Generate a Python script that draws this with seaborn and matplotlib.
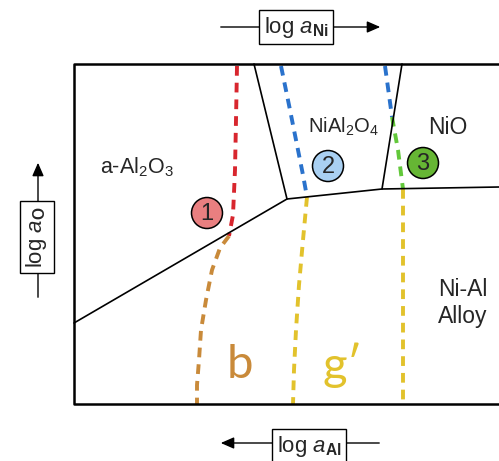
import matplotlib
matplotlib.use("Agg")
import matplotlib.pyplot as plt
import seaborn as sns
from matplotlib.patches import Circle, FancyArrowPatch

# Schematic coordinates (x right, y down), in the frame of the drawing
frame_x = [499, 74, 74, 499]
frame_y = [64, 64, 404, 404]

# phase boundaries
alumina_alloy_x = [74, 287, 382, 499]
alumina_alloy_y = [323, 199, 189, 187]
alumina_spinel_x = [254, 287]
alumina_spinel_y = [64, 199]
spinel_nio_x = [402, 382]
spinel_nio_y = [64, 189]

# dashed paths
path_red_x = [237, 236, 235, 233, 229]
path_red_y = [66, 120, 170, 215, 236]
path_b_x = [229, 220, 212, 206, 201, 199, 197, 197]
path_b_y = [236, 248, 270, 300, 330, 360, 385, 404]
path_blue2_x = [281, 289, 297, 303, 307]
path_blue2_y = [66, 105, 145, 175, 197]
path_g2_x = [307, 303, 299, 296, 294, 293]
path_g2_y = [197, 240, 285, 330, 370, 404]
path_blue3_x = [385, 389, 392]
path_blue3_y = [66, 95, 117]
path_green_x = [392, 398, 403]
path_green_y = [117, 150, 189]
path_g3_x = [403, 403]
path_g3_y = [189, 404]

labels = ["1", "2", "3"]
label_x = [207, 328, 423]
label_y = [213, 166, 163]
label_fill = ["#e97f80", "#a9d0f2", "#66b634"]

sns.set_style("white")
plt.rcParams["font.family"] = ["Liberation Sans", "DejaVu Sans"]
plt.rcParams["mathtext.fontset"] = "custom"
plt.rcParams["mathtext.rm"] = "Liberation Sans"
plt.rcParams["mathtext.it"] = "Liberation Sans:italic"
plt.rcParams["mathtext.bf"] = "Liberation Sans:bold"

fig = plt.figure(figsize=(4.99, 4.61), dpi=100)
ax = fig.add_axes([0, 0, 1, 1])

def draw(xs, ys, color, lw, ls="-"):
    sns.lineplot(x=xs, y=ys, sort=False, estimator=None, color=color,
                 lw=lw, linestyle=ls, ax=ax)

dash = (0, (2.5, 1.8))
draw(path_red_x, path_red_y, "#d8262e", 2.8, dash)
draw(path_b_x, path_b_y, "#c98a3a", 2.8, dash)
draw(path_blue2_x, path_blue2_y, "#2a72cc", 2.8, dash)
draw(path_g2_x, path_g2_y, "#e2c22c", 2.8, dash)
draw(path_blue3_x, path_blue3_y, "#2a72cc", 2.8, dash)
draw(path_green_x, path_green_y, "#62c83a", 2.8, dash)
draw(path_g3_x, path_g3_y, "#e2c22c", 2.8, dash)

draw(frame_x, frame_y, "black", 1.8)
draw(alumina_alloy_x, alumina_alloy_y, "black", 1.2)
draw(alumina_spinel_x, alumina_spinel_y, "black", 1.2)
draw(spinel_nio_x, spinel_nio_y, "black", 1.2)

for lab, cx, cy, fc in zip(labels, label_x, label_y, label_fill):
    ax.add_patch(Circle((cx, cy), 15.5, facecolor=fc, edgecolor="black", lw=1.1, zorder=5))
    ax.text(cx, cy + 1, lab, ha="center", va="center", fontsize=17, zorder=6)

ax.text(137, 167, "a-Al$_2$O$_3$", ha="center", va="center", fontsize=15.5)
ax.text(343, 127, "NiAl$_2$O$_4$", ha="center", va="center", fontsize=14.5)
ax.text(448, 127, "NiO", ha="center", va="center", fontsize=16.5)
ax.text(463, 303, "Ni-Al\nAlloy", ha="center", va="center", fontsize=16.5, linespacing=1.25)
ax.text(240, 365, "b", ha="center", va="center", fontsize=34, color="#c98a3a",
        family=["Lato", "DejaVu Sans"])
ax.text(343, 365, "g\u2032", ha="center", va="center", fontsize=34, color="#e2c22c",
        family=["Lato", "DejaVu Sans"])

# axis arrows with boxed labels
box = dict(boxstyle="square,pad=0.22", fc="white", ec="black", lw=1.0)
ax.add_patch(FancyArrowPatch((218, 27), (383, 27), arrowstyle="-|>,head_length=8,head_width=3.5",
                             color="black", lw=1.0, mutation_scale=1))
ax.text(296, 27, r"log $\mathit{a}_{\mathbf{Ni}}$", ha="center", va="center", fontsize=16, bbox=box)
ax.add_patch(FancyArrowPatch((382, 443), (218, 443), arrowstyle="-|>,head_length=8,head_width=3.5",
                             color="black", lw=1.0, mutation_scale=1))
ax.text(309, 446, r"log $\mathit{a}_{\mathbf{Al}}$", ha="center", va="center", fontsize=16, bbox=box)
ax.add_patch(FancyArrowPatch((38, 300), (38, 160), arrowstyle="-|>,head_length=8,head_width=3.5",
                             color="black", lw=1.0, mutation_scale=1))
ax.text(37, 237, r"log $\mathit{a}_{\mathbf{O}}$", ha="center", va="center", fontsize=16,
        rotation=90, bbox=box)

ax.set_xlim(0, 499)
ax.set_ylim(461, 0)
ax.axis("off")
fig.savefig("out.png", dpi=100)
